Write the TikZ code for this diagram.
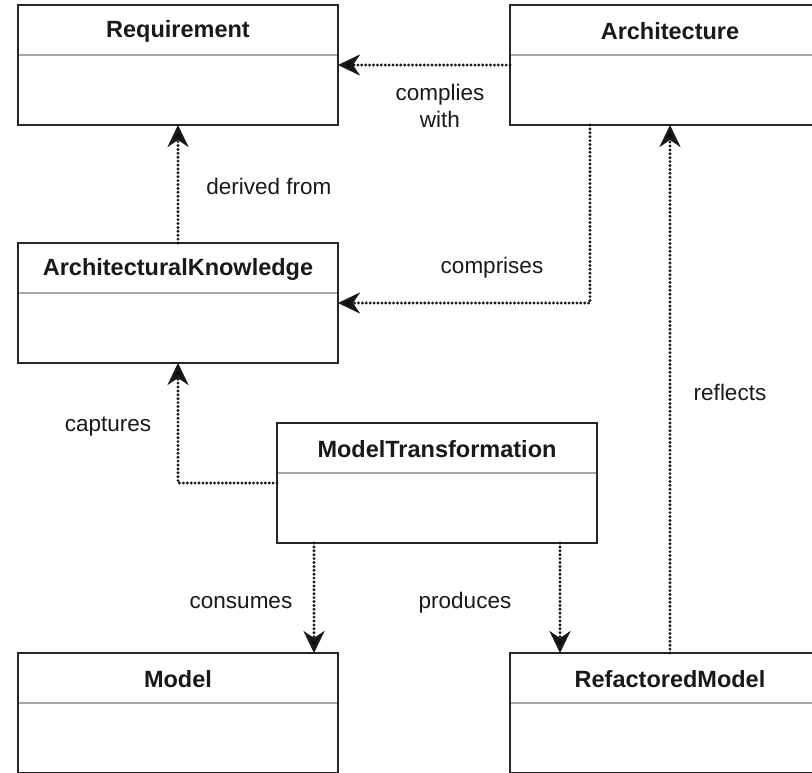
\documentclass[tikz,border=0pt]{standalone}
\usepackage{fontspec}
\setmainfont{Liberation Sans}
\usetikzlibrary{arrows.meta,calc}

% A UML class box: name, top-left corner, title
\newcommand\umlclass[3]{%
  \node[classbox] (#1) at (#2) {};
  \draw[sepline] ($(#1.north west)+(1.2,50)$) -- ($(#1.north east)+(-1.2,50)$);
  \node[classtitle] (#1-title) at ($(#1.north)+(0,26)$) {#3};
}

\begin{document}
\begin{tikzpicture}[x=1pt,y=-1pt,
  classbox/.style={draw=black!85,line width=2.4pt,fill=white,
    minimum width=320pt,minimum height=120pt,anchor=north west,
    inner sep=0pt,outer sep=0pt},
  classtitle/.style={font=\fontsize{23.5}{28}\selectfont\bfseries,text=black!90},
  sepline/.style={draw=black!35,line width=2pt},
  dep/.style={draw=black!90,line width=3.2pt,line cap=round,
    dash pattern=on 0pt off 3.9pt,
    -{Stealth[length=22pt,width=21pt,inset=7pt,fill=black]}},
  lbl/.style={font=\fontsize{22.5}{27}\selectfont,text=black!90,align=center,
    inner sep=1pt}]

\useasboundingbox (0,0) rectangle (812,772);
\clip (0,0) rectangle (812,772);
\fill[white] (0,0) rectangle (812,772);

% classes
\umlclass{req}{18,5}{Requirement}
\umlclass{arch}{510,5}{Architecture}
\umlclass{ak}{18,243}{ArchitecturalKnowledge}
\umlclass{mt}{277,423}{ModelTransformation}
\umlclass{model}{18,653}{Model}
\umlclass{rm}{510,653}{RefactoredModel}

% dependencies
\draw[dep] (arch.west) -- (req.east);
\draw[dep] (ak.north) -- (req.south);
\draw[dep] ($(arch.south west)+(80,0)$) |- (ak.east);
\draw[dep] (mt.west) -| (ak.south);
\coordinate (consumesx) at ($(mt.south west)+(37,0)$);
\draw[dep] (consumesx) -- (consumesx |- model.north);
\coordinate (producesx) at ($(rm.north west)+(50,0)$);
\draw[dep] (producesx |- mt.south) -- (producesx);
\draw[dep] (rm.north) -- (arch.south);

% dependency labels
\node[lbl] (l-complies) at (440,106) {complies\\with};
\node[lbl] (l-derived)  at (269,186) {derived from};
\node[lbl] (l-comprises) at (492,268) {comprises};
\node[lbl] (l-captures) at (108,427) {captures};
\node[lbl] (l-consumes) at (241,603) {consumes};
\node[lbl] (l-produces) at (465,603) {produces};
\node[lbl] (l-reflects) at (730,392) {reflects};

\end{tikzpicture}
\end{document}
